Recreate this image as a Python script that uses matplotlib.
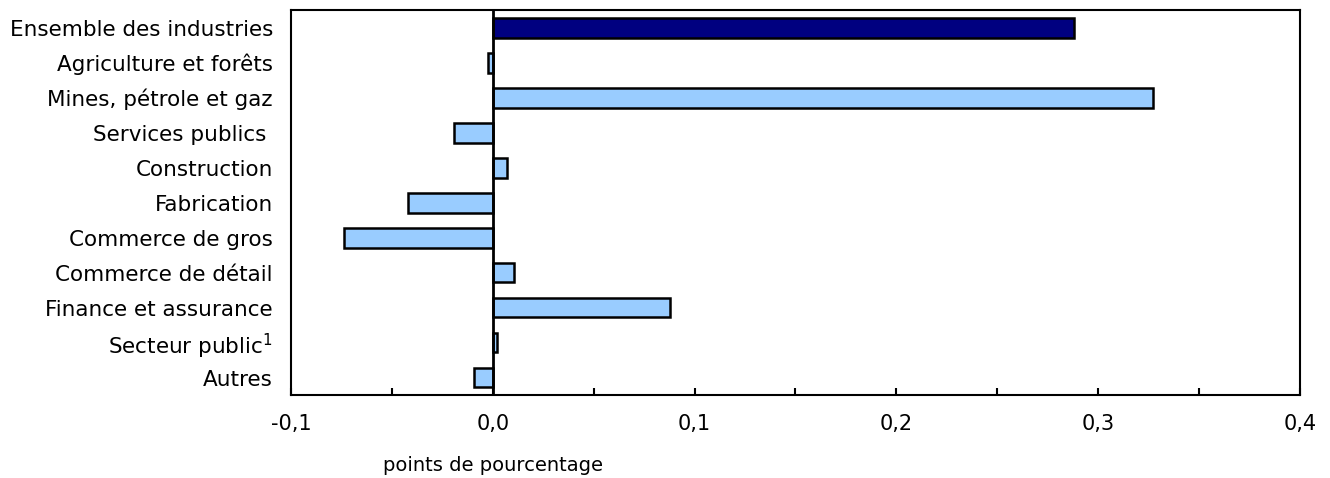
import matplotlib
matplotlib.use("Agg")
import matplotlib.pyplot as plt
from matplotlib.ticker import MultipleLocator, FixedLocator

categories = [
    "Ensemble des industries",
    "Agriculture et forêts",
    "Mines, pétrole et gaz",
    "Services publics ",
    "Construction",
    "Fabrication",
    "Commerce de gros",
    "Commerce de détail",
    "Finance et assurance",
    "Secteur public$^{1}$",
    "Autres",
]
values = [0.288, -0.0023, 0.3274, -0.0193, 0.0068, -0.042, -0.0738,
          0.0106, 0.0877, 0.002, -0.0094]
bar_colors = ["#000080"] + ["#99CCFF"] * 10

x_ticks = [-0.1, 0.0, 0.1, 0.2, 0.3, 0.4]
x_tick_labels = ["-0,1", "0,0", "0,1", "0,2", "0,3", "0,4"]

fig = plt.figure(figsize=(13.3, 4.78), dpi=100)
ax = fig.add_axes([0.2188, 0.1736, 0.7586, 0.8054])

pos = list(range(len(categories)))
ax.barh(pos, values, height=0.57, color=bar_colors, edgecolor="black",
        linewidth=1.8, zorder=2)
ax.axvline(0, color="black", linewidth=2, zorder=3)

ax.set_ylim(len(categories) - 0.5, -0.5)
ax.set_xlim(-0.1, 0.4)
ax.set_yticks(pos)
ax.set_yticklabels(categories, fontsize=15.5)
ax.tick_params(axis="y", length=0, pad=13)

ax.xaxis.set_major_locator(FixedLocator(x_ticks))
ax.set_xticklabels(x_tick_labels, fontsize=15)
ax.xaxis.set_minor_locator(MultipleLocator(0.05))
ax.tick_params(axis="x", which="both", direction="in", length=5, width=1.5, pad=14)

for s in ax.spines.values():
    s.set_linewidth(1.5)

ax.text(0.0, -0.184, "points de pourcentage", transform=ax.get_xaxis_transform(),
        ha="center", va="center", fontsize=14)

fig.savefig("out.png", dpi=100)
